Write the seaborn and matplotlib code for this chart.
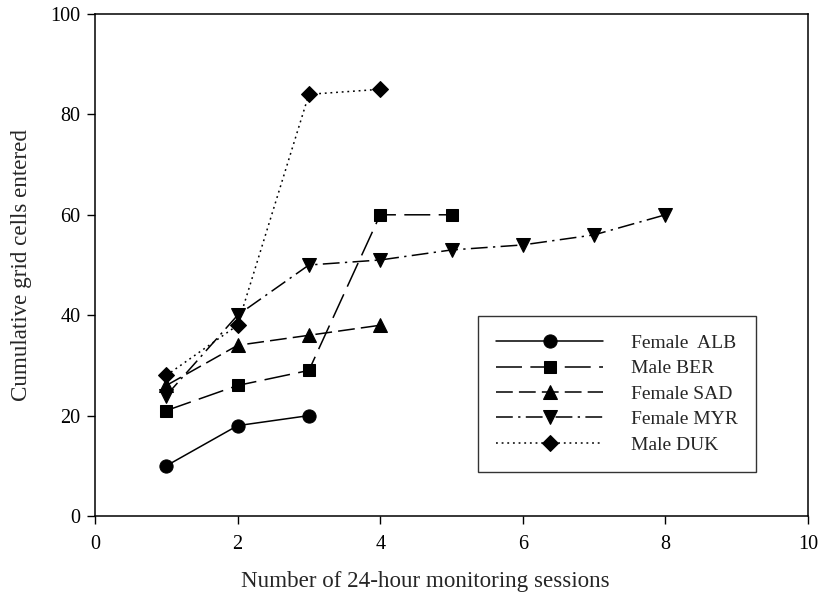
import matplotlib
matplotlib.use("Agg")
import matplotlib.pyplot as plt
import seaborn as sns
import pandas as pd

# ---- data ----
alb_x = [1, 2, 3]
alb_y = [10, 18, 20]
ber_x = [1, 2, 3, 4, 5]
ber_y = [21, 26, 29, 60, 60]
sad_x = [1, 2, 3, 4]
sad_y = [26, 34, 36, 38]
myr_x = [1, 2, 3, 4, 5, 6, 7, 8]
myr_y = [24, 40, 50, 51, 53, 54, 56, 60]
duk_x = [1, 2, 3, 4]
duk_y = [28, 38, 84, 85]

labels = ["Female  ALB", "Male BER", "Female SAD", "Female MYR", "Male DUK"]
x_ticks = [0, 2, 4, 6, 8, 10]
y_ticks = [0, 20, 40, 60, 80, 100]

sns.set_theme(style="ticks")
plt.rcParams["font.family"] = ["Liberation Serif", "DejaVu Serif"]

fig = plt.figure(figsize=(8.19, 6.01), dpi=100)
ax = fig.add_axes([95 / 819, 85 / 601, 713 / 819, 502 / 601])

series = [
    (alb_x, alb_y, labels[0], "o", 9.5, "-"),
    (ber_x, ber_y, labels[1], "s", 8.5, (0, (17, 5.5))),
    (sad_x, sad_y, labels[2], "^", 9.5, (0, (11, 4))),
    (myr_x, myr_y, labels[3], "v", 9.5, (0, (11, 3.5, 1.5, 3.5))),
    (duk_x, duk_y, labels[4], "D", 8.0, (0, (1.2, 2.5))),
]

for xs, ys, lab, mk, ms, ls in series:
    df = pd.DataFrame({"x": xs, "y": ys})
    sns.lineplot(data=df, x="x", y="y", ax=ax, color="black", linewidth=1.1,
                 marker=mk, markersize=ms, markeredgecolor="black",
                 markerfacecolor="black", linestyle=ls, label=lab)

ax.set_xlim(0, 10)
ax.set_ylim(0, 100)
ax.set_xticks(x_ticks)
ax.set_yticks(y_ticks)
ax.tick_params(axis="both", direction="out", length=5.5, width=1.0,
               labelsize=14.5, colors="black")
ax.tick_params(axis="x", pad=8)
ax.tick_params(axis="y", pad=5)
for s in ax.spines.values():
    s.set_visible(True)
    s.set_color("black")
    s.set_linewidth(1.1)

ax.set_xlabel("Number of 24-hour monitoring sessions", fontsize=16.6)
ax.xaxis.set_label_coords(0.463, -0.11)
ax.set_ylabel("Cumulative grid cells entered", fontsize=16.6, labelpad=13)

leg = ax.legend(loc="lower left", bbox_to_anchor=(0.537, 0.0876),
                frameon=True, fancybox=False, shadow=False,
                fontsize=14, handlelength=5.5, handletextpad=1.4,
                borderpad=0.95, labelspacing=0.4, borderaxespad=0)
leg.get_frame().set_edgecolor("black")
leg.get_frame().set_linewidth(1.0)

fig.savefig("out.png", dpi=100)
